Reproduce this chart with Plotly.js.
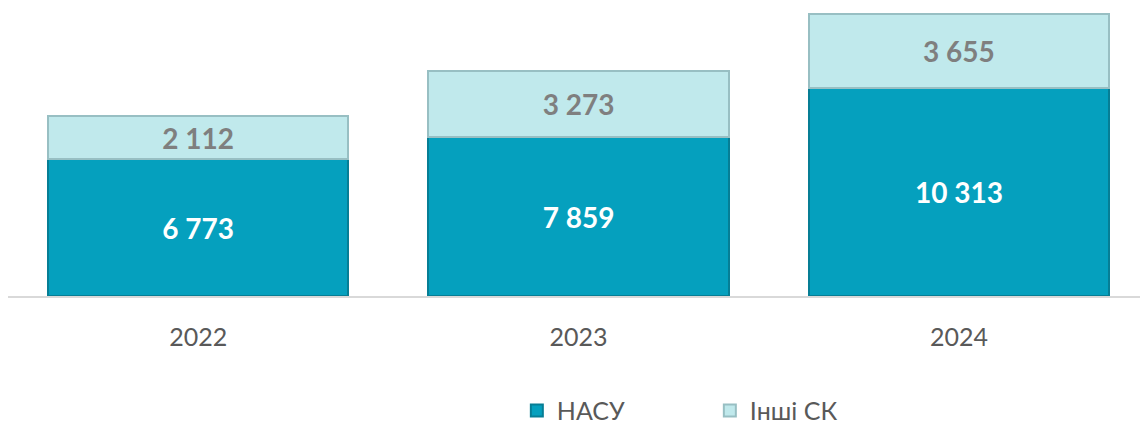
<!DOCTYPE html>
<html><head><meta charset="utf-8">
<script src="https://cdn.plot.ly/plotly-3.0.1.min.js"></script>
<style>html,body{margin:0;padding:0;background:#fff}#chart{width:1140px;height:424px}</style>
</head><body><div id="chart"></div>
<script>
const years = ['2022', '2023', '2024'];
const nasu = [6773, 7859, 10313];
const other = [2112, 3273, 3655];
const seriesNames = ['НАСУ', 'Інші СК'];

const font = 'Lato, "Open Sans", "Liberation Sans", sans-serif';
const traces = [
  {
    type: 'bar', name: seriesNames[0], x: years, y: nasu,
    marker: {color: '#05A0BE', line: {color: '#067E95', width: 2}},
    texttemplate: '%{y:,}', textposition: 'inside', insidetextanchor: 'middle',
    constraintext: 'none',
    insidetextfont: {family: font, size: 28, color: '#FFFFFF', weight: 'bold'},
    hoverinfo: 'skip'
  },
  {
    type: 'bar', name: seriesNames[1], x: years, y: other,
    marker: {color: '#C0E9EC', line: {color: '#98BFC3', width: 2}},
    texttemplate: '%{y:,}', textposition: 'inside', insidetextanchor: 'middle',
    constraintext: 'none',
    insidetextfont: {family: font, size: 28, color: '#7F7F7F', weight: 'bold'},
    hoverinfo: 'skip'
  }
];
const layout = {
  width: 1140, height: 424,
  margin: {l: 8, r: 0, t: 0, b: 128, autoexpand: false},
  barmode: 'stack', bargap: 0.21,
  separators: '. ',
  paper_bgcolor: '#FFFFFF', plot_bgcolor: '#FFFFFF',
  font: {family: font, color: '#595959'},
  xaxis: {
    type: 'category', range: [-0.5, 2.476], showgrid: false, zeroline: false,
    showline: true, linecolor: '#D9D9D9', linewidth: 1.5,
    ticks: '', tickfont: {family: font, size: 25, color: '#595959'},
    ticklabelstandoff: 18, automargin: false
  },
  yaxis: {range: [0, 14650], visible: false, showgrid: false, zeroline: false},
  legend: {
    orientation: 'h', x: 0.62, xanchor: 'center', y: -0.31, yanchor: 'top',
    font: {family: font, size: 25, color: '#595959'},
    traceorder: 'normal', itemwidth: 30, entrywidthmode: 'pixels', entrywidth: 148
  },
  showlegend: true
};
Plotly.newPlot('chart', traces, layout, {displayModeBar: false, staticPlot: true});
</script></body></html>
